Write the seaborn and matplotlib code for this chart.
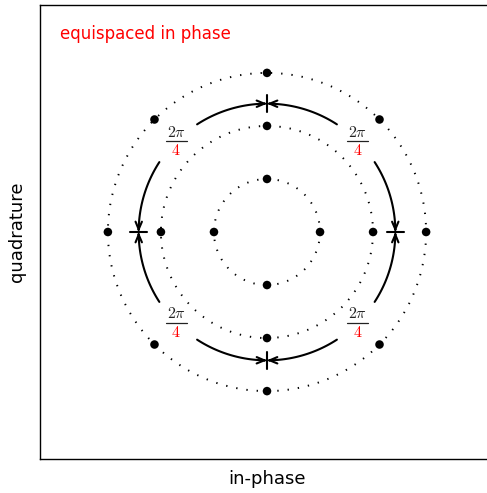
import numpy as np
import pandas as pd
import matplotlib
matplotlib.use("Agg")
import matplotlib.pyplot as plt
import seaborn as sns
from matplotlib.patches import Circle, FancyArrowPatch
from matplotlib.path import Path

# rings of the constellation: radius and number of equispaced points
ring_radius = [1, 2, 3]
ring_points = [4, 4, 8]

# arrows between the middle and outer rings
arrow_radius = 2.42
arrow_marks = [0, 90, 180, 270]      # degrees, where the arrows meet
label_angles = [45, 135, 225, 315]   # degrees, where the 2pi/4 labels sit
arrow_gap = 33                       # degrees each arrow spans

title_text = "equispaced in phase"
x_label = "in-phase"
y_label = "quadrature"

rows = []
for r, n in zip(ring_radius, ring_points):
    for k in range(n):
        a = 2 * np.pi * k / n
        rows.append({"i": r * np.cos(a), "q": r * np.sin(a), "ring": r})
df = pd.DataFrame(rows)

sns.set_style("white")
plt.rcParams["font.family"] = ["DejaVu Sans"]
plt.rcParams["mathtext.fontset"] = "cm"
plt.rcParams["text.color"] = "black"
plt.rcParams["axes.labelcolor"] = "black"

fig = plt.figure(figsize=(4.87, 4.93), dpi=100)
ax = fig.add_axes([40 / 487, 1 - 459 / 493, 454 / 487, 454 / 493])

lim = 4.28
ax.set_xlim(-lim, lim)
ax.set_ylim(-lim, lim)

# dotted rings
for r in ring_radius:
    ax.add_patch(Circle((0, 0), r, fill=False, color="black", lw=1.4,
                        linestyle=(0, (0.7, 4.6))))

sns.scatterplot(data=df, x="i", y="q", color="black", s=38, edgecolor="none",
                ax=ax, legend=False, zorder=3)

# arrows converging on each mark
for m in arrow_marks:
    for sign in (-1, 1):
        t = np.radians(np.linspace(m + sign * arrow_gap, m, 40))
        verts = np.column_stack([arrow_radius * np.cos(t), arrow_radius * np.sin(t)])
        path = Path(verts)
        ax.add_patch(FancyArrowPatch(path=path, arrowstyle="->,head_length=5.5,head_width=2.3",
                                     color="black", lw=1.5, shrinkA=0, shrinkB=0,
                                     mutation_scale=1))
    a = np.radians(m)
    ax.plot([(arrow_radius - 0.16) * np.cos(a), (arrow_radius + 0.16) * np.cos(a)],
            [(arrow_radius - 0.16) * np.sin(a), (arrow_radius + 0.16) * np.sin(a)],
            color="black", lw=1.5)

# 2pi/4 labels, denominator in red
for la in label_angles:
    a = np.radians(la)
    cx, cy = arrow_radius * np.cos(a), arrow_radius * np.sin(a)
    ax.text(cx, cy + 0.03, r"$2\pi$", ha="center", va="bottom", fontsize=11.5, color="#222222")
    ax.plot([cx - 0.2, cx + 0.2], [cy, cy], color="#222222", lw=0.9)
    ax.text(cx, cy - 0.04, r"$4$", ha="center", va="top", fontsize=11.5, color="red")

ax.text(0.045, 0.955, title_text, transform=ax.transAxes, color="red",
        fontsize=12, ha="left", va="top")

ax.set_xticks([])
ax.set_yticks([])
ax.set_xlabel(x_label, fontsize=13, labelpad=8)
ax.set_ylabel(y_label, fontsize=13, labelpad=10)
for s in ax.spines.values():
    s.set_linewidth(1.0)
    s.set_color("black")

fig.savefig("out.png", dpi=100)
